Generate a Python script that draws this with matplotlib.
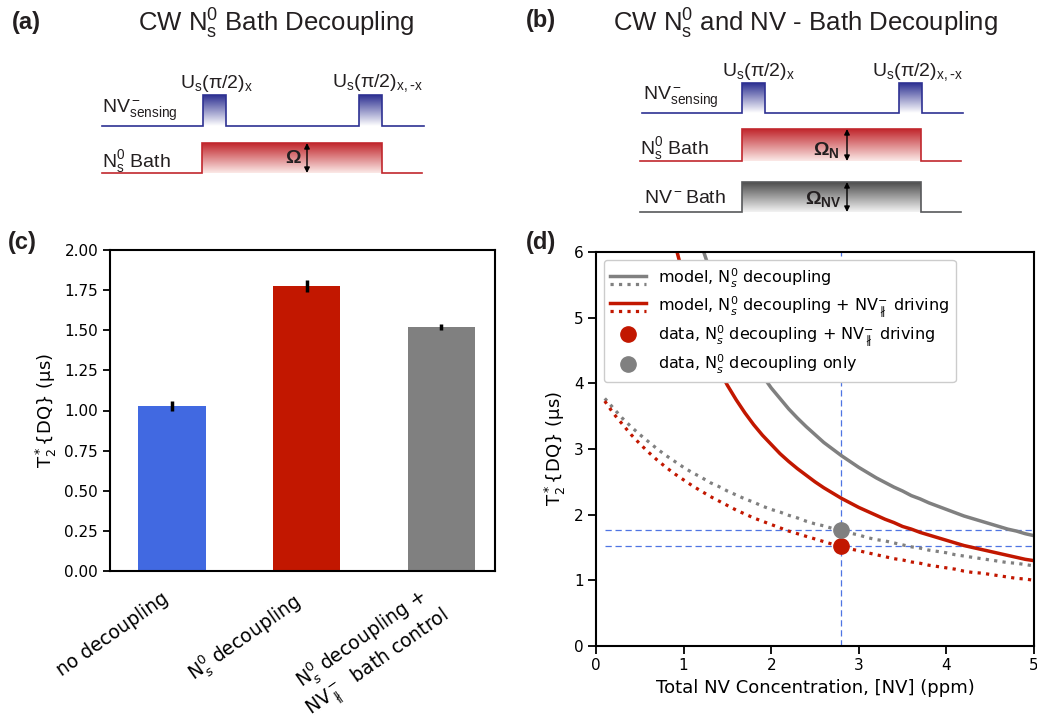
import numpy as np
import matplotlib
matplotlib.use("Agg")
import matplotlib.pyplot as plt
from matplotlib.colors import LinearSegmentedColormap
from matplotlib.lines import Line2D
from matplotlib.legend_handler import HandlerBase

# ---------------- data ----------------
bar_labels = ["no decoupling",
              r"N$_s^0$ decoupling",
              "N$_s^0$ decoupling +\nNV$^-_{\\nparallel}$  bath control"]
bar_values = [1.03, 1.775, 1.52]
bar_errors = [0.03, 0.035, 0.02]
bar_colors = ["#4169e1", "#c21700", "#808080"]

nv_conc = [0.1, 0.2, 0.3, 0.4, 0.5, 0.6, 0.7, 0.8, 0.9, 1.0,
           1.1, 1.2, 1.3, 1.4, 1.5, 1.6, 1.7, 1.8, 1.9, 2.0,
           2.1, 2.2, 2.3, 2.4, 2.5, 2.6, 2.7, 2.8, 2.9, 3.0,
           3.1, 3.2, 3.3, 3.4, 3.5, 3.6, 3.7, 3.8, 3.9, 4.0,
           4.1, 4.2, 4.3, 4.4, 4.5, 4.6, 4.7, 4.8, 4.9, 5.0]
# model, N_s^0 decoupling (solid and dotted curves)
model_n_solid = [26.07, 20.11, 16.37, 13.80, 11.93, 10.51, 9.39, 8.48, 7.74, 7.11,
                 6.58, 6.12, 5.72, 5.38, 5.07, 4.79, 4.54, 4.32, 4.12, 3.93,
                 3.77, 3.61, 3.47, 3.34, 3.22, 3.10, 3.00, 2.90, 2.81, 2.72,
                 2.64, 2.56, 2.49, 2.42, 2.36, 2.29, 2.24, 2.18, 2.13, 2.08,
                 2.03, 1.98, 1.94, 1.90, 1.86, 1.82, 1.78, 1.75, 1.71, 1.68]
model_n_dotted = [3.77, 3.62, 3.47, 3.34, 3.22, 3.11, 3.00, 2.90, 2.81, 2.72,
                  2.64, 2.57, 2.49, 2.43, 2.36, 2.30, 2.24, 2.19, 2.13, 2.08,
                  2.04, 1.99, 1.95, 1.90, 1.86, 1.83, 1.79, 1.75, 1.72, 1.69,
                  1.65, 1.62, 1.60, 1.57, 1.54, 1.51, 1.49, 1.46, 1.44, 1.42,
                  1.39, 1.37, 1.35, 1.33, 1.31, 1.29, 1.27, 1.26, 1.24, 1.22]
# model, N_s^0 decoupling + NV driving
model_nnv_solid = [22.32, 16.78, 13.44, 11.21, 9.62, 8.42, 7.49, 6.74, 6.13, 5.62,
                   5.19, 4.82, 4.50, 4.22, 3.97, 3.75, 3.55, 3.37, 3.21, 3.07,
                   2.93, 2.81, 2.70, 2.60, 2.50, 2.41, 2.33, 2.25, 2.18, 2.11,
                   2.05, 1.99, 1.93, 1.88, 1.82, 1.78, 1.73, 1.69, 1.65, 1.61,
                   1.57, 1.53, 1.50, 1.47, 1.44, 1.41, 1.38, 1.35, 1.32, 1.30]
model_nnv_dotted = [3.73, 3.54, 3.38, 3.22, 3.08, 2.95, 2.83, 2.72, 2.62, 2.53,
                    2.44, 2.36, 2.28, 2.21, 2.14, 2.07, 2.01, 1.95, 1.90, 1.85,
                    1.80, 1.75, 1.71, 1.67, 1.63, 1.59, 1.55, 1.51, 1.48, 1.45,
                    1.42, 1.39, 1.36, 1.33, 1.31, 1.28, 1.26, 1.23, 1.21, 1.19,
                    1.17, 1.14, 1.12, 1.11, 1.09, 1.07, 1.05, 1.03, 1.02, 1.00]

sample_conc = 2.8
data_n_only = 1.77
data_n_nv = 1.52

RED = "#c21700"
GRAY = "#808080"
GUIDE = "#4f74e3"

# ---------------- figure ----------------
W, H = 1037, 723
fig = plt.figure(figsize=(W / 100, H / 100), dpi=100)

# overlay in pixel units for the pulse-sequence schematics and panel tags
ov = fig.add_axes([0, 0, 1, 1], zorder=0)
ov.set_xlim(0, W)
ov.set_ylim(H, 0)
ov.axis("off")

SANS = "Liberation Sans"
INK = "#231f20"


def gradient_box(x0, x1, base, top, dark, light):
    cmap = LinearSegmentedColormap.from_list("g", [light, dark])
    grad = np.linspace(1, 0, 200).reshape(-1, 1)
    ov.imshow(grad, extent=(x0, x1, base, top), cmap=cmap, aspect="auto",
              origin="upper", interpolation="bilinear", zorder=1)


def channel(x0, x1, base, top, pulses, color, dark, light):
    xs, ys = [x0], [base]
    for (a, b) in pulses:
        gradient_box(a, b, base, top, dark, light)
        xs += [a, a, b, b]
        ys += [base, top, top, base]
    xs.append(x1)
    ys.append(base)
    ov.plot(xs, ys, color=color, lw=1.2, zorder=2, solid_joinstyle="miter")


def double_arrow(x, y0, y1):
    ov.annotate("", xy=(x, y0), xytext=(x, y1),
                arrowprops=dict(arrowstyle="<|-|>", color="black", lw=1.0,
                                mutation_scale=8, shrinkA=0, shrinkB=0), zorder=3)


BLUE_LINE = "#2e3192"
RED_LINE = "#c1272d"
GRAY_LINE = "#58595b"
TAG = dict(fontsize=17, fontweight="bold", family=SANS, color=INK, ha="left", va="center")
LBL = dict(fontsize=14, family=SANS, color=INK)

# panel (a)
ov.text(12, 22, "(a)", **TAG)
ov.text(276, 24, r"CW $\mathregular{N_s^0}$ Bath Decoupling", fontsize=18.5,
        family=SANS, color=INK, ha="center", va="center")
channel(102, 424, 126, 95, [(203, 226), (359, 382)], BLUE_LINE, "#2e3192", "#ffffff")
channel(102, 422, 173, 143, [(202, 382)], RED_LINE, "#c1272d", "#fbe9e7")
ov.text(217, 83, r"$\mathregular{U_s(π/2)_x}$", ha="center", va="center", **LBL)
ov.text(378, 83, r"$\mathregular{U_s(π/2)_{x,\text{-}x}}$", ha="center", va="center", **LBL)
ov.text(102, 113, r"$\mathregular{NV^-_{sensing}}$", ha="left", va="baseline", **LBL)
ov.text(102, 167, r"$\mathregular{N^0_s}$ Bath", ha="left", va="baseline", **LBL)
ov.text(293, 163, "Ω", fontweight="bold", ha="center", va="baseline", **LBL)
double_arrow(307, 143, 173)

# panel (b)
ov.text(526, 20, "(b)", **TAG)
ov.text(805, 24, r"CW $\mathregular{N_s^0}$ and NV - Bath Decoupling", fontsize=18.5,
        family=SANS, color=INK, ha="center", va="center")
channel(642, 963, 113, 83, [(742, 765), (899, 922)], BLUE_LINE, "#2e3192", "#ffffff")
channel(640, 961, 161, 129, [(742, 921)], RED_LINE, "#c1272d", "#fbe9e7")
channel(640, 961, 212, 182, [(742, 921)], GRAY_LINE, "#4d4d4d", "#f3f3f3")
ov.text(759, 72, r"$\mathregular{U_s(π/2)_x}$", ha="center", va="center", **LBL)
ov.text(918, 72, r"$\mathregular{U_s(π/2)_{x,\text{-}x}}$", ha="center", va="center", **LBL)
ov.text(643, 100, r"$\mathregular{NV^-_{sensing}}$", ha="left", va="baseline", **LBL)
ov.text(640, 154, r"$\mathregular{N^0_s}$ Bath", ha="left", va="baseline", **LBL)
ov.text(644, 203, r"$\mathregular{NV^-}$Bath", ha="left", va="baseline", **LBL)
ov.text(826, 155, r"$\mathregular{Ω_N}$", fontweight="bold", ha="center", va="baseline", **LBL)
ov.text(823, 204, r"$\mathregular{Ω_{NV}}$", fontweight="bold", ha="center", va="baseline",
        **LBL)
double_arrow(847, 129, 161)
double_arrow(847, 182, 212)

# panel tags for the plots
ov.text(8, 243, "(c)", **TAG)
ov.text(526, 243, "(d)", **TAG)

# ---------------- panel (c): bar chart ----------------
axc = fig.add_axes([110 / W, 1 - 571 / H, 385 / W, 321 / H])
pos = np.arange(len(bar_values))
axc.bar(pos, bar_values, width=0.5, color=bar_colors, yerr=bar_errors,
        error_kw=dict(ecolor="black", elinewidth=2.5, capsize=0))
axc.set_xlim(-0.46, 2.4)
axc.set_ylim(0, 2.0)
yt = np.arange(0, 2.01, 0.25)
axc.set_yticks(yt)
axc.set_yticklabels([f"{v:.2f}" for v in yt])
axc.set_xticks(pos)
axc.set_xticklabels(bar_labels[:-1] + [""], rotation=35, ha="right", fontsize=13.5)
# the two-line category name, centred line by line and nudged right of its tick
axc.annotate(bar_labels[-1], xy=(pos[-1], 0), xycoords=("data", "axes fraction"),
             xytext=(11, -6), textcoords="offset points", rotation=35,
             ha="right", va="top", multialignment="center", fontsize=13.5,
             annotation_clip=False)
axc.tick_params(axis="x", length=0, pad=13)
axc.tick_params(axis="y", labelsize=11, length=5, width=1.3)
axc.set_ylabel(r"T$_2^*${DQ} (μs)", fontsize=13)
for s in axc.spines.values():
    s.set_linewidth(1.5)

# ---------------- panel (d): concentration dependence ----------------
axd = fig.add_axes([596 / W, 1 - 646 / H, 438 / W, 394 / H])
axd.axvline(sample_conc, color=GUIDE, lw=0.9, ls=(0, (5, 3)), zorder=1)
axd.hlines([data_n_only, data_n_nv], nv_conc[0], nv_conc[-1], color=GUIDE, lw=0.9,
           ls=(0, (5, 3)), zorder=1)
ln_gs, = axd.plot(nv_conc, model_n_solid, color=GRAY, lw=2.5, zorder=2)
ln_gd, = axd.plot(nv_conc, model_n_dotted, color=GRAY, lw=2.3, ls=":", zorder=2)
ln_rs, = axd.plot(nv_conc, model_nnv_solid, color=RED, lw=2.5, zorder=2)
ln_rd, = axd.plot(nv_conc, model_nnv_dotted, color=RED, lw=2.3, ls=":", zorder=2)
pt_r, = axd.plot([sample_conc], [data_n_nv], "o", color=RED, ms=11, zorder=3, ls="none")
pt_g, = axd.plot([sample_conc], [data_n_only], "o", color=GRAY, ms=11, zorder=3, ls="none")
axd.set_xlim(0, 5)
axd.set_ylim(0, 6)
axd.set_xticks(range(0, 6))
axd.set_yticks(range(0, 7))
axd.tick_params(labelsize=11, length=5.5, width=1.3)
axd.set_xlabel("Total NV Concentration, [NV] (ppm)", fontsize=13)
axd.set_ylabel(r"T$_2^*${DQ} (μs)", fontsize=13)
for s in axd.spines.values():
    s.set_linewidth(1.5)


class StackedLines(HandlerBase):
    """Draws a solid line above a dotted one inside one legend slot."""

    def create_artists(self, legend, orig_handle, xdescent, ydescent, width, height,
                       fontsize, trans):
        solid, dotted = orig_handle
        x = [-xdescent, -xdescent + width]
        a = Line2D(x, [height * 0.62 - ydescent] * 2, color=solid.get_color(),
                   lw=solid.get_linewidth(), transform=trans)
        b = Line2D(x, [-height * 0.05 - ydescent] * 2, color=dotted.get_color(),
                   lw=dotted.get_linewidth(), ls=":", transform=trans)
        return [a, b]


axd.legend([(ln_gs, ln_gd), (ln_rs, ln_rd), pt_r, pt_g],
           [r"model, N$_s^0$ decoupling",
            r"model, N$_s^0$ decoupling + NV$_{\nparallel}^{-}$ driving",
            r"data, N$_s^0$ decoupling + NV$_{\nparallel}^{-}$ driving",
            r"data, N$_s^0$ decoupling only"],
           handler_map={tuple: StackedLines()}, loc="upper left", fontsize=11.5,
           handlelength=2.2, labelspacing=0.3, framealpha=1)

fig.savefig("out.png", dpi=100)
